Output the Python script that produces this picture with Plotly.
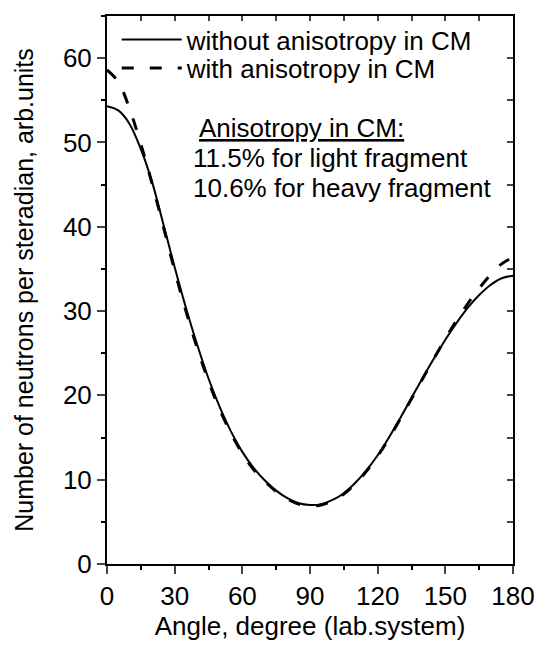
import plotly.graph_objects as go

# ---- data ----
angle = [0, 5, 10, 15, 20, 25, 30, 35, 40, 45, 50, 55, 60, 65, 70, 75, 80, 85, 90,
         95, 100, 105, 110, 115, 120, 125, 130, 135, 140, 145, 150, 155, 160, 165, 170, 175, 180]
without_aniso = [54.3, 53.8, 52.2, 49.2, 45.3, 40.3, 35.2, 30.4, 26.0, 22.0, 18.6, 15.7, 13.3,
                 11.4, 9.9, 8.7, 7.8, 7.2, 7.0, 7.1, 7.6, 8.4, 9.6, 11.1, 12.9, 15.0, 17.3,
                 19.7, 22.1, 24.4, 26.6, 28.6, 30.4, 31.9, 33.1, 33.9, 34.2]
with_aniso = [58.6, 57.2, 54.0, 49.8, 45.1, 40.0, 34.8, 30.0, 25.6, 21.7, 18.3, 15.5, 13.1,
              11.2, 9.8, 8.6, 7.7, 7.1, 6.9, 7.0, 7.5, 8.3, 9.5, 11.0, 12.8, 14.9, 17.2,
              19.6, 22.0, 24.4, 26.7, 28.9, 30.9, 32.7, 34.3, 35.6, 36.4]
x_ticks = [0, 30, 60, 90, 120, 150, 180]
y_ticks = [0, 10, 20, 30, 40, 50, 60]
series_names = ["without anisotropy in CM", "with anisotropy in CM"]
note_lines = ["<u>Anisotropy in CM:</u>", "11.5% for light fragment", "10.6% for heavy fragment"]

FONT = "Liberation Sans, Arial, sans-serif"
FS = 26

fig = go.Figure()
fig.add_trace(go.Scatter(x=angle, y=without_aniso, mode="lines", name=series_names[0],
                         legend="legend",
                         line=dict(color="black", width=2, shape="spline")))
fig.add_trace(go.Scatter(x=angle, y=with_aniso, mode="lines", name=series_names[1],
                         legend="legend2",
                         line=dict(color="black", width=3, dash="12px,16px", shape="spline")))
# invisible trace to hold mirror axes
fig.add_trace(go.Scatter(x=[0, 180], y=[0, 65], xaxis="x2", yaxis="y2", mode="lines",
                         line=dict(width=0), showlegend=False, hoverinfo="skip"))

leg_common = dict(x=0.024, xanchor="left", yanchor="middle", bgcolor="rgba(0,0,0,0)",
                  font=dict(size=FS), itemwidth=60, tracegroupgap=0)

fig.update_layout(
    width=547, height=647,
    margin=dict(l=107, r=25, t=16, b=75),
    plot_bgcolor="white", paper_bgcolor="white",
    font=dict(family=FONT, size=FS, color="black"),
    showlegend=True,
    legend=dict(y=0.957, **leg_common),
    legend2=dict(y=0.905, **leg_common),
    xaxis=dict(range=[0, 180], tickvals=x_ticks, ticks="outside", ticklen=8, tickwidth=1.5,
               showline=True, linecolor="black", linewidth=2, showgrid=False, zeroline=False,
               minor=dict(dtick=15, ticks="outside", ticklen=4, tickwidth=1.5, tickcolor="black"),
               tickfont=dict(size=FS),
               title=dict(text="Angle, degree (lab.system)", font=dict(size=FS), standoff=6)),
    yaxis=dict(range=[0, 65], tickvals=y_ticks, ticks="outside", ticklen=8, tickwidth=1.5,
               showline=True, linecolor="black", linewidth=2, showgrid=False, zeroline=False,
               minor=dict(dtick=5, ticks="outside", ticklen=4, tickwidth=1.5, tickcolor="black"),
               tickfont=dict(size=FS),
               title=dict(text="Number of neutrons per steradian, arb.units",
                          font=dict(size=25), standoff=22)),
    xaxis2=dict(range=[0, 180], overlaying="x", side="top", dtick=15, ticks="inside", ticklen=5,
                tickwidth=1.5, showticklabels=False, showline=True, linecolor="black", linewidth=2,
                showgrid=False, zeroline=False),
    yaxis2=dict(range=[0, 65], overlaying="y", side="right", dtick=5, ticks="inside", ticklen=6,
                tickwidth=1.5, showticklabels=False, showline=True, linecolor="black", linewidth=2,
                showgrid=False, zeroline=False),
)

ann_pos = [(0.222, 0.795), (0.207, 0.741), (0.207, 0.687)]
for (ax, ay), txt in zip(ann_pos, note_lines):
    fig.add_annotation(x=ax, y=ay, xref="paper", yref="paper", text=txt, showarrow=False,
                       xanchor="left", yanchor="middle", font=dict(size=26, family=FONT))

fig.write_html("out.html")
